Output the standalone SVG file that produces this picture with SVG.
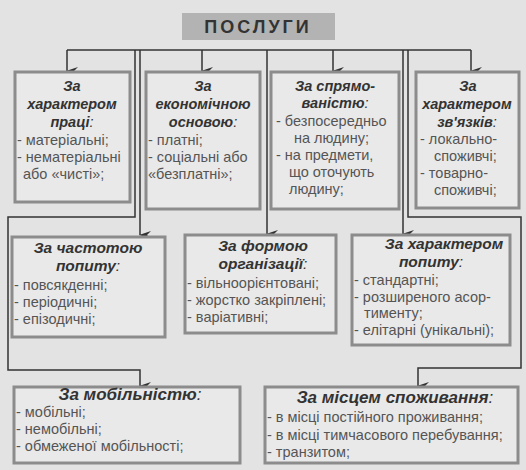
<svg xmlns="http://www.w3.org/2000/svg" width="526" height="470" viewBox="0 0 526 470">
<style>
.box{fill:#e9e9e9;stroke:#8c8c8c;stroke-width:3}
.t{font-family:"Liberation Sans",Arial,sans-serif;font-size:15.5px;font-weight:bold;font-style:italic;fill:#333;text-anchor:middle}
.u{font-size:14.5px}
.b{font-size:17px}
.c{font-weight:normal}
.i{font-family:"Liberation Sans",Arial,sans-serif;font-size:14.5px;fill:#555}
.ln{fill:none;stroke:#333;stroke-width:1.5}
</style>
<defs>
<marker id="ar" markerWidth="8" markerHeight="12" refX="4" refY="11" orient="auto-start-reverse" markerUnits="userSpaceOnUse" viewBox="0 0 8 12">
<path d="M0,0 L4,4 L8,0 L4,12 Z" fill="#333"/>
</marker>
</defs>
<rect width="526" height="470" fill="#e3e3e3"/>
<g id="title">
<rect x="182" y="13" width="153" height="27" fill="#b3b3b3"/>
<text x="258" y="33" font-family="'Liberation Sans',Arial,sans-serif" font-size="18" font-weight="bold" fill="#333" text-anchor="middle" letter-spacing="3">ПОСЛУГИ</text>
</g>
<g id="connectors">
<path class="ln" d="M67,50 H471"/>
<path class="ln" d="M67,50 V71" marker-end="url(#ar)"/>
<path class="ln" d="M202,50 V71" marker-end="url(#ar)"/>
<path class="ln" d="M333,50 V71" marker-end="url(#ar)"/>
<path class="ln" d="M471,50 V71" marker-end="url(#ar)"/>
<path class="ln" d="M135,50 V217 H8 V370 H140 V386" marker-end="url(#ar)"/>
<path class="ln" d="M140,50 V235" marker-end="url(#ar)"/>
<path class="ln" d="M267,50 V234" marker-end="url(#ar)"/>
<path class="ln" d="M403,50 V234" marker-end="url(#ar)"/>
<path class="ln" d="M408,50 V217 H521 V368 H418 V386" marker-end="url(#ar)"/>
</g>
<g id="n1">
<rect class="box" x="15" y="72" width="115" height="130"/>
<text class="t u" x="72" y="91">За</text>
<text class="t u" x="72" y="109">характером</text>
<text class="t u" x="72" y="127">праці<tspan class="c">:</tspan></text>
<text class="i" x="17" y="145">- матеріальні;</text>
<text class="i" x="17" y="162">- нематеріальні</text>
<text class="i" x="23" y="179">або «чисті»;</text>
</g>
<g id="n2">
<rect class="box" x="146" y="72" width="114" height="137"/>
<text class="t u" x="203" y="91">За</text>
<text class="t u" x="203" y="109">економічною</text>
<text class="t u" x="203" y="127">основою<tspan class="c">:</tspan></text>
<text class="i" x="148" y="145">- платні;</text>
<text class="i" x="148" y="162">- соціальні або</text>
<text class="i" x="148" y="179">«безплатні»;</text>
</g>
<g id="n3">
<rect class="box" x="271" y="72" width="128" height="137"/>
<text class="t u" x="335" y="91">За спрямо-</text>
<text class="t u" x="335" y="108">ваністю<tspan class="c">:</tspan></text>
<text class="i" x="276" y="126">- безпосередньо</text>
<text class="i" x="294" y="143">на людину;</text>
<text class="i" x="276" y="160">- на предмети,</text>
<text class="i" x="289" y="177">що оточують</text>
<text class="i" x="289" y="194">людину;</text>
</g>
<g id="n4">
<rect class="box" x="416" y="72" width="103" height="136"/>
<text class="t u" x="468" y="91">За</text>
<text class="t u" x="467" y="109">характером</text>
<text class="t u" x="467" y="127">зв'язків<tspan class="c">:</tspan></text>
<text class="i" x="420" y="144">- локально-</text>
<text class="i" x="434" y="161">споживчі;</text>
<text class="i" x="420" y="178">- товарно-</text>
<text class="i" x="434" y="195">споживчі;</text>
</g>
<g id="n5">
<rect class="box" x="12" y="237" width="153" height="100"/>
<text class="t" x="88" y="253">За частотою</text>
<text class="t" x="88" y="271">попиту<tspan class="c">:</tspan></text>
<text class="i" x="14" y="290">- повсякденні;</text>
<text class="i" x="14" y="307">- періодичні;</text>
<text class="i" x="14" y="324">- епізодичні;</text>
</g>
<g id="n6">
<rect class="box" x="185" y="235" width="151" height="98"/>
<text class="t" x="263" y="251">За формою</text>
<text class="t" x="263" y="269">організації<tspan class="c">:</tspan></text>
<text class="i" x="187" y="288">- вільноорієнтовані;</text>
<text class="i" x="187" y="305">- жорстко закріплені;</text>
<text class="i" x="187" y="322">- варіативні;</text>
</g>
<g id="n7">
<rect class="box" x="352" y="235" width="158" height="110"/>
<text class="t" x="444" y="249">За характером</text>
<text class="t" x="431" y="267">попиту<tspan class="c">:</tspan></text>
<text class="i" x="354" y="285">- стандартні;</text>
<text class="i" x="354" y="302">- розширеного асор-</text>
<text class="i" x="364" y="318">тименту;</text>
<text class="i" x="354" y="335">- елітарні (унікальні);</text>
</g>
<g id="n8">
<rect class="box" x="14" y="387" width="226" height="76"/>
<text class="t b" x="130" y="400">За мобільністю<tspan class="c">:</tspan></text>
<text class="i" x="16" y="417">- мобільні;</text>
<text class="i" x="16" y="434">- немобільні;</text>
<text class="i" x="16" y="451">- обмеженої мобільності;</text>
</g>
<g id="n9">
<rect class="box" x="265" y="387" width="253" height="76"/>
<text class="t b" x="395" y="403">За місцем споживання<tspan class="c">:</tspan></text>
<text class="i" x="267" y="422">- в місці постійного проживання;</text>
<text class="i" x="267" y="440">- в місці тимчасового перебування;</text>
<text class="i" x="267" y="457">- транзитом;</text>
</g>
</svg>
